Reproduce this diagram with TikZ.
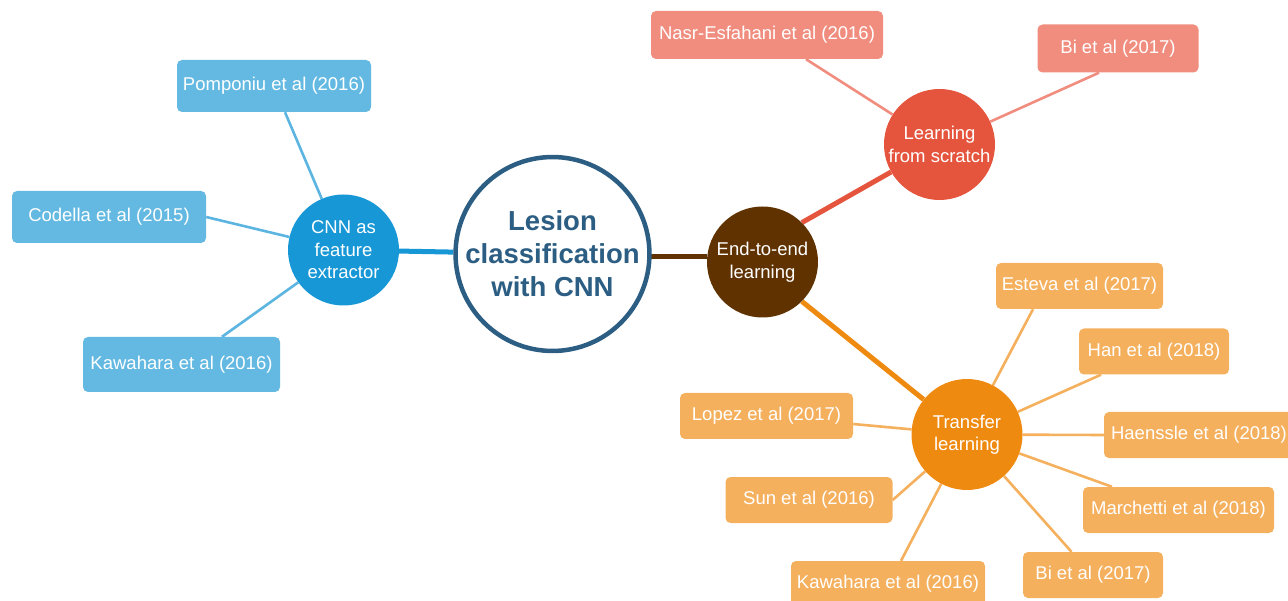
\documentclass[tikz,border=0pt]{standalone}
\usepackage{fontspec}
\setmainfont{Liberation Sans}
\usetikzlibrary{backgrounds}
\definecolor{bluebox}{HTML}{63B9E1}
\definecolor{bluecirc}{HTML}{1797D5}
\definecolor{blueline}{HTML}{5CB5E1}
\definecolor{navy}{HTML}{2C5D83}
\definecolor{brownc}{HTML}{5F3200}
\definecolor{redcirc}{HTML}{E5553E}
\definecolor{salmon}{HTML}{F08D7E}
\definecolor{orangecirc}{HTML}{EF8A10}
\definecolor{orangebox}{HTML}{F5B05E}
\begin{document}
\begin{tikzpicture}[x=1pt,y=-1pt,
  leafbox/.style={rounded corners=5pt, inner sep=0pt, text=white,
    font=\fontsize{18.5}{22}\selectfont, align=center},
  bbox/.style={leafbox, fill=bluebox, minimum height=52pt},
  rbox/.style={leafbox, fill=salmon, minimum height=48pt},
  obox/.style={leafbox, fill=orangebox, minimum height=46pt},
  hub/.style={circle, inner sep=0pt, minimum size=111pt, text=white,
    font=\fontsize{18.5}{22.5}\selectfont, align=center},
  leafline/.style={line width=2.6pt},
  bline/.style={leafline, draw=blueline},
  rline/.style={leafline, draw=salmon},
  oline/.style={leafline, draw=orangebox},
  trunk/.style={line width=5pt}]
\useasboundingbox (0,0) rectangle (1288,601);

% central and hub nodes
\node[circle, draw=navy, line width=4.5pt, fill=white, minimum size=191pt,
  inner sep=0pt, text=navy, font=\bfseries\fontsize{27.5}{33}\selectfont,
  align=center] (centre) at (552.5,254) {Lesion\\classification\\with CNN};
\node[hub, fill=bluecirc] (cnn) at (343.5,250) {CNN as\\feature\\extractor};
\node[hub, fill=brownc] (e2e) at (762.5,262) {End-to-end\\learning};
\node[hub, fill=redcirc] (lfs) at (939.5,144.5) {Learning\\from scratch};
\node[hub, fill=orangecirc] (tl) at (967,434.5) {Transfer\\learning};

% leaves
\node[bbox, minimum width=194pt] (pomp) at (274,86) {Pomponiu et al (2016)};
\node[bbox, minimum width=194pt] (cod) at (109,217) {Codella et al (2015)};
\node[bbox, minimum width=197pt, minimum height=55pt] (kawl) at (181.5,364.5) {Kawahara et al (2016)};
\node[rbox, minimum width=232pt] (nasr) at (767,35) {Nasr-Esfahani et al (2016)};
\node[rbox, minimum width=161pt] (bitop) at (1118,48.5) {Bi et al (2017)};
\node[obox, minimum width=167pt] (est) at (1079.5,286) {Esteva et al (2017)};
\node[obox, minimum width=150pt] (han) at (1154,351.5) {Han et al (2018)};
\node[obox, minimum width=190pt] (hae) at (1199,435) {Haenssle et al (2018)};
\node[obox, minimum width=191pt] (mar) at (1178.5,510) {Marchetti et al (2018)};
\node[obox, minimum width=140pt] (bib) at (1093,575) {Bi et al (2017)};
\node[obox, minimum width=194pt] (kawb) at (888,584) {Kawahara et al (2016)};
\node[obox, minimum width=167pt] (sun) at (809,500) {Sun et al (2016)};
\node[obox, minimum width=173pt] (lop) at (766.5,416) {Lopez et al (2017)};

\begin{scope}[on background layer]
  % trunks
  \draw[trunk, draw=bluecirc] (cnn) -- (centre);
  \draw[trunk, draw=brownc] (e2e.174) -- (e2e.174 -| centre);
  \draw[trunk, draw=redcirc] (e2e.45) -- (lfs);
  \draw[trunk, draw=orangecirc] (e2e.-45) -- (tl);
  % leaf connectors
  \draw[bline] (cnn) -- ([xshift=11pt]pomp.south);
  \draw[bline] (cnn) -- (cod.east);
  \draw[bline] (cnn) -- ([xshift=40.5pt]kawl.north);
  \draw[rline] (lfs) -- ([xshift=39pt]nasr.south);
  \draw[rline] (lfs) -- ([xshift=-19pt]bitop.south);
  \draw[oline] (tl) -- ([xshift=-46.5pt]est.south);
  \draw[oline] (tl) -- ([xshift=-53pt]han.south);
  \draw[oline] (tl) -- (hae.west);
  \draw[oline] (tl) -- ([xshift=-66.5pt]mar.north);
  \draw[oline] (tl) -- ([xshift=-21.5pt]bib.north);
  \draw[oline] (tl) -- ([xshift=13pt]kawb.north);
  \draw[oline] (tl) -- (sun.east);
  \draw[oline] (tl) -- ([yshift=-8pt]lop.east);
\end{scope}
\end{tikzpicture}
\end{document}
